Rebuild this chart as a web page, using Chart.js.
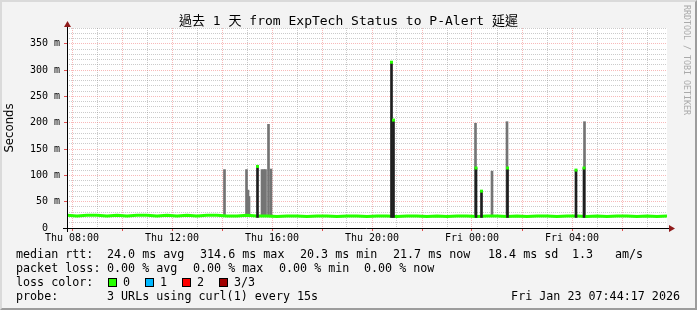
<!DOCTYPE html>
<html>
<head>
<meta charset="utf-8">
<script src="https://cdn.jsdelivr.net/npm/chart.js@4.4.1/dist/chart.umd.min.js"></script>
<style>
html, body { margin: 0; padding: 0; }
body { width: 697px; height: 310px; background: #f3f3f3; position: relative; overflow: hidden; font-family: 'DejaVu Sans Mono', monospace; }
#c { position: absolute; left: 0; top: 0; }
#frame { position: absolute; left: 0; top: 0; width: 697px; height: 310px; box-sizing: border-box; border: 2px solid; border-color: #dadada #9c9c9c #9c9c9c #dadada; pointer-events: none; }
.t { position: absolute; font-size: 11.7px; line-height: 14px; white-space: pre; color: #000; }
.sq { position: absolute; top: 278px; width: 7px; height: 7px; border: 1px solid #000; }
#wm { position: absolute; left: 682px; top: 5px; writing-mode: vertical-rl; font-size: 8.3px; line-height: 10px; color: #aaaaaa; }
</style>
</head>
<body>
<canvas id="c" width="697" height="310"></canvas>
<div id="frame"></div>
<div id="wm">RRDTOOL / TOBI OETIKER</div>

<div class="t" style="left:16px;top:247px">median rtt:</div>
<div class="t" style="left:107px;top:247px">24.0 ms avg</div>
<div class="t" style="left:200px;top:247px">314.6 ms max</div>
<div class="t" style="left:300px;top:247px">20.3 ms min</div>
<div class="t" style="left:393px;top:247px">21.7 ms now</div>
<div class="t" style="left:488px;top:247px">18.4 ms sd</div>
<div class="t" style="left:572px;top:247px">1.3</div>
<div class="t" style="left:615px;top:247px">am/s</div>

<div class="t" style="left:16px;top:261px">packet loss:</div>
<div class="t" style="left:107px;top:261px">0.00 % avg</div>
<div class="t" style="left:193px;top:261px">0.00 % max</div>
<div class="t" style="left:279px;top:261px">0.00 % min</div>
<div class="t" style="left:364px;top:261px">0.00 % now</div>

<div class="t" style="left:16px;top:275px">loss color:</div>
<div class="sq" style="left:108px;background:#26ff00"></div>
<div class="t" style="left:123px;top:275px">0</div>
<div class="sq" style="left:145px;background:#00b8ff"></div>
<div class="t" style="left:160px;top:275px">1</div>
<div class="sq" style="left:182px;background:#ff0000"></div>
<div class="t" style="left:197px;top:275px">2</div>
<div class="sq" style="left:219px;background:#a00000"></div>
<div class="t" style="left:234px;top:275px">3/3</div>

<div class="t" style="left:16px;top:289px">probe:</div>
<div class="t" style="left:107px;top:289px">3 URLs using curl(1) every 15s</div>
<div class="t" style="right:17px;top:289px">Fri Jan 23 07:44:17 2026</div>

<script>
const chartTitle = '過去 1 天 from ExpTech Status to P-Alert 延遲';

// hours since Thu 00:00
const baseTimes = [7.8, 8.2, 8.6, 9.0, 9.4, 9.8, 10.2, 10.6, 11.0, 11.4,
  11.8, 12.2, 12.6, 13.0, 13.4, 13.8, 14.2, 14.6, 15.0, 15.4,
  15.8, 16.2, 16.6, 17.0, 17.4, 17.8, 18.2, 18.6, 19.0, 19.4,
  19.8, 20.2, 20.6, 21.0, 21.4, 21.8, 22.2, 22.6, 23.0, 23.4,
  23.8, 24.2, 24.6, 25.0, 25.4, 25.8, 26.2, 26.6, 27.0, 27.4,
  27.8, 28.2, 28.6, 29.0, 29.4, 29.8, 30.2, 30.6, 31.0, 31.4, 31.8];
const medianBase = [24, 23, 24, 24, 23, 24, 23, 24, 24, 23,
  24, 23, 24, 23, 24, 24, 23, 23, 24, 23,
  23, 22, 23, 23, 22, 23, 23, 22, 23, 23,
  22, 23, 23, 22, 23, 23, 22, 23, 22, 23,
  23, 22, 23, 23, 22, 23, 22, 23, 23, 22,
  23, 23, 22, 23, 22, 23, 23, 22, 23, 22, 23];

// light smoke (spread of the three samples)
const smokeTimes = [14.10, 14.98, 15.04, 15.08, 15.60, 15.68, 15.74, 15.86, 15.96, 24.14, 24.80, 25.40, 28.50];
const smokeLow = [22, 22, 22, 22, 22, 22, 22, 22, 22, 22, 22, 22, 22];
const smokeHigh = [111, 111, 72, 60, 111, 111, 111, 197, 112, 199, 108, 202, 202];

// dark smoke where the median itself jumped
const darkTimes = [15.42, 20.78, 20.86, 24.16, 24.38, 25.42, 28.16, 28.48];
const darkLow = [20, 20, 20, 20, 20, 20, 20, 20];
const darkHigh = [117, 316, 205, 114, 70, 114, 110, 114];
const medianSpike = [117, 315, 205, 114, 70, 114, 110, 114];

const gridHours = [8, 9, 10, 11, 12, 13, 14, 15, 16, 17, 18, 19, 20, 21, 22, 23, 24, 25, 26, 27, 28, 29, 30, 31];
const xLabelHours = [8, 12, 16, 20, 24, 28];
const xLabels = ['Thu 08:00', 'Thu 12:00', 'Thu 16:00', 'Thu 20:00', 'Fri 00:00', 'Fri 04:00'];
const yGrid = [0, 10, 20, 30, 40, 50, 60, 70, 80, 90, 100, 110, 120, 130, 140, 150, 160, 170, 180, 190,
  200, 210, 220, 230, 240, 250, 260, 270, 280, 290, 300, 310, 320, 330, 340, 350, 360, 370, 380];
const yLabelValues = [0, 50, 100, 150, 200, 250, 300, 350];
const yLabels = ['0  ', '50 m', '100 m', '150 m', '200 m', '250 m', '300 m', '350 m'];

const GREEN = '#26ff00';
const MINOR = 'rgba(140,140,140,0.45)';
const MAJOR = 'rgba(240,100,100,0.45)';
const MONO = "'DejaVu Sans Mono', 'Noto Sans CJK TC', monospace";

const plotFrame = {
  id: 'plotFrame',
  beforeDraw(chart) {
    const { ctx, chartArea: a } = chart;
    ctx.save();
    ctx.fillStyle = '#ffffff';
    ctx.fillRect(a.left, a.top, a.right - a.left, a.bottom - a.top);
    ctx.restore();
  },
  afterDraw(chart) {
    const { ctx, chartArea: a } = chart;
    ctx.save();
    // title, centred on the whole image
    ctx.fillStyle = '#000';
    ctx.font = '13px ' + MONO;
    ctx.textAlign = 'center';
    ctx.textBaseline = 'middle';
    ctx.fillText(chartTitle, chart.width / 2, 21.5);
    // axes with arrow heads
    ctx.strokeStyle = '#000';
    ctx.lineWidth = 1;
    ctx.beginPath();
    ctx.moveTo(a.left - 4, a.bottom + 0.5);
    ctx.lineTo(a.right + 3, a.bottom + 0.5);
    ctx.moveTo(a.left + 0.5, a.bottom + 4);
    ctx.lineTo(a.left + 0.5, a.top - 2);
    ctx.stroke();
    ctx.fillStyle = '#8f1b1b';
    ctx.beginPath();
    ctx.moveTo(a.right + 8, a.bottom + 0.5);
    ctx.lineTo(a.right + 2, a.bottom - 3);
    ctx.lineTo(a.right + 2, a.bottom + 4);
    ctx.fill();
    ctx.beginPath();
    ctx.moveTo(a.left + 0.5, a.top - 7);
    ctx.lineTo(a.left - 3, a.top - 1);
    ctx.lineTo(a.left + 4, a.top - 1);
    ctx.fill();
    ctx.restore();
  }
};

new Chart(document.getElementById('c'), {
  type: 'scatter',
  data: {
    datasets: [
      {
        type: 'bar',
        data: smokeTimes.map((t, i) => ({ x: t, y: [smokeLow[i], smokeHigh[i]] })),
        backgroundColor: '#747474',
        barThickness: 2,
        grouped: false,
        order: 3
      },
      {
        type: 'line',
        data: baseTimes.map((t, i) => ({ x: t, y: medianBase[i] })),
        borderColor: GREEN,
        borderWidth: 3,
        pointRadius: 0,
        tension: 0,
        order: 2
      },
      {
        type: 'bar',
        data: darkTimes.map((t, i) => ({ x: t, y: [darkLow[i], darkHigh[i]] })),
        backgroundColor: '#1e1e1e',
        barThickness: 2,
        grouped: false,
        order: 1
      },
      {
        type: 'scatter',
        data: darkTimes.map((t, i) => ({ x: t, y: medianSpike[i] })),
        pointStyle: 'line',
        pointRadius: 1.5,
        borderWidth: 3,
        borderColor: GREEN,
        order: 0
      }
    ]
  },
  options: {
    responsive: false,
    animation: false,
    devicePixelRatio: 1,
    layout: { padding: { left: 0, right: 30, top: 28, bottom: 62 } },
    plugins: {
      legend: { display: false },
      tooltip: { enabled: false },
      title: { display: false }
    },
    scales: {
      x: {
        type: 'linear',
        min: 7.8,
        max: 31.8,
        offset: false,
        afterBuildTicks: s => { s.ticks = gridHours.map(h => ({ value: h })); },
        afterFit: s => { s.height = 20; },
        border: { display: false, dash: [1, 1] },
        grid: {
          offset: false,
          color: c => (c.tick && c.tick.value % 2 === 0 ? MAJOR : MINOR),
          tickColor: c => (c.tick && c.tick.value % 2 === 0 ? '#e05050' : 'rgba(0,0,0,0)'),
          tickLength: 3
        },
        ticks: {
          autoSkip: false,
          maxRotation: 0,
          padding: 1,
          color: '#000',
          font: { family: MONO, size: 10 },
          callback: v => {
            const i = xLabelHours.indexOf(v);
            return i >= 0 ? xLabels[i] : '';
          }
        }
      },
      y: {
        min: 0,
        max: 380,
        afterBuildTicks: s => { s.ticks = yGrid.map(v => ({ value: v })); },
        afterFit: s => { s.width = 67; },
        border: { display: false, dash: [1, 1] },
        grid: {
          color: c => (c.tick && c.tick.value % 50 === 0 ? MAJOR : MINOR),
          tickColor: c => (c.tick && c.tick.value % 50 === 0 ? '#e05050' : 'rgba(0,0,0,0)'),
          tickLength: 3
        },
        title: {
          display: true,
          text: 'Seconds',
          color: '#000',
          font: { family: "'DejaVu Sans', sans-serif", size: 11.7 },
          padding: { top: 3, bottom: 0 }
        },
        ticks: {
          autoSkip: false,
          padding: 4,
          color: '#000',
          font: { family: MONO, size: 10 },
          callback: v => {
            const i = yLabelValues.indexOf(v);
            return i >= 0 ? yLabels[i] : '';
          }
        }
      }
    }
  },
  plugins: [plotFrame]
});
</script>
</body>
</html>
